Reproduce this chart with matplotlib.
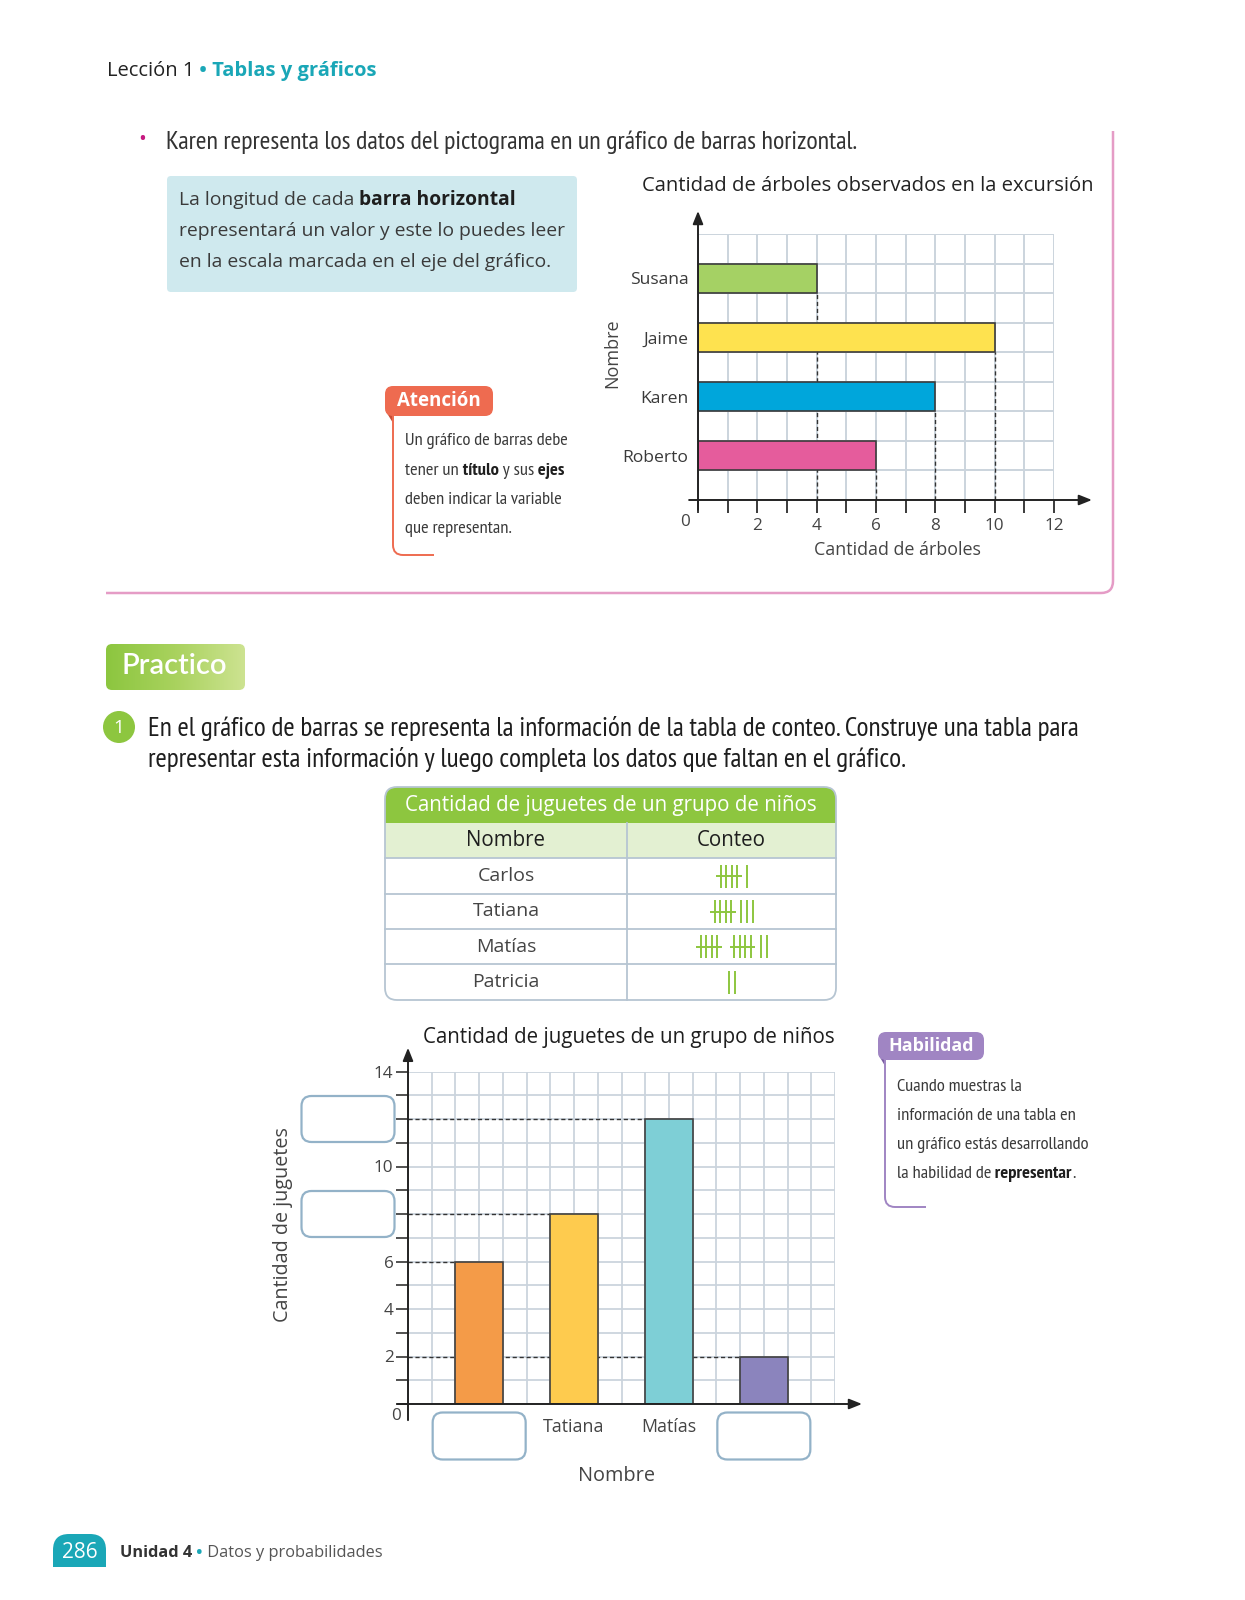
import os
import numpy as np
import matplotlib
matplotlib.use('Agg')
import matplotlib.pyplot as plt
import matplotlib.patheffects as pe
from matplotlib import font_manager as fm
from matplotlib.font_manager import FontProperties
from matplotlib.patches import FancyBboxPatch, Rectangle, Circle, PathPatch, Polygon
from matplotlib.path import Path
from matplotlib.transforms import ScaledTranslation
from matplotlib.colors import LinearSegmentedColormap

W, H = 1245, 1600
REG = ['Open Sans', 'DejaVu Sans']
ROUND = ['Lato', 'Open Sans', 'DejaVu Sans']

# ---------------- data ----------------
header_left = 'Lección 1'
header_right = 'Tablas y gráficos'
intro_text = 'Karen representa los datos del pictograma en un gráfico de barras horizontal.'
blue_lines = [[('La longitud de cada', 'normal'), (' barra horizontal', 'bold')],
              [('representará un valor y este lo puedes leer', 'normal')],
              [('en la escala marcada en el eje del gráfico.', 'normal')]]
atencion_title = 'Atención'
atencion_lines = [[('Un gráfico de barras debe', 'normal')],
                  [('tener un', 'normal'), (' título', 'bold'), (' y sus', 'normal'), (' ejes', 'bold')],
                  [('deben indicar la variable', 'normal')],
                  [('que representan.', 'normal')]]

h_title = 'Cantidad de árboles observados en la excursión'
h_names = ['Susana', 'Jaime', 'Karen', 'Roberto']
h_values = [4, 10, 8, 6]
h_colors = ['#a5d164', '#fee24f', '#00a6db', '#e55c9c']
h_xlabel = 'Cantidad de árboles'
h_ylabel = 'Nombre'
h_xticks = list(range(0, 13))
h_xtick_labels = ['0', '', '2', '', '4', '', '6', '', '8', '', '10', '', '12']

practico_label = 'Practico'
task_number = '1'
task_lines = ['En el gráfico de barras se representa la información de la tabla de conteo. Construye una tabla para',
              'representar esta información y luego completa los datos que faltan en el gráfico.']

table_title = 'Cantidad de juguetes de un grupo de niños'
table_header = ['Nombre', 'Conteo']
table_names = ['Carlos', 'Tatiana', 'Matías', 'Patricia']
table_counts = [6, 8, 12, 2]

v_title = 'Cantidad de juguetes de un grupo de niños'
v_names = ['', 'Tatiana', 'Matías', '']          # '' = blank box to complete
v_values = [6, 8, 12, 2]
v_colors = ['#f49b48', '#fecb4e', '#7ecfd6', '#8b84bd']
v_xlabel = 'Nombre'
v_ylabel = 'Cantidad de juguetes'
v_yticks = list(range(0, 15))
v_ytick_labels = ['0', '', '2', '', '4', '', '6', '', '', '', '10', '', '', '', '14']

habilidad_title = 'Habilidad'
habilidad_lines = [[('Cuando muestras la', 'normal')],
                   [('información de una tabla en', 'normal')],
                   [('un gráfico estás desarrollando', 'normal')],
                   [('la habilidad de', 'normal'), (' representar', 'bold'), ('.', 'normal')]]

page_number = '286'
footer_unit = 'Unidad 4'
footer_topic = 'Datos y probabilidades'

# ---------------- colours ----------------
TEAL = '#1aa7b7'
GREEN = '#8dc63f'
PINK = '#e59cc6'
ORANGE = '#ee6b50'
PURPLE = '#a085c3'
TXT = '#333333'
GRID = '#cbd4dd'


# ---------------- condensed font lookup ----------------
def _norm(s):
    return s.lower().replace(' ', '').replace('-', '').replace('_', '')


def _kind(e):
    s = _norm(os.path.basename(e.fname) + e.name)
    if 'narrow' in s:
        return 0
    if 'extracondensed' in s or 'ultracondensed' in s:
        return 3
    if 'semicondensed' in s:
        return 2
    if 'condensed' in s or 'cond' in _norm(os.path.basename(e.fname)):
        return 1
    return None


def _wt(e):
    w = e.weight
    if isinstance(w, str):
        return {'normal': 400, 'regular': 400, 'book': 400, 'bold': 700}.get(w.lower(), 0)
    return int(w)


def pick_condensed():
    fam_pref = ['liberation', 'roboto', 'notosans', 'opensans', 'dejavu', 'lato', 'inter']
    groups = {}
    for e in fm.fontManager.ttflist:
        b = _norm(os.path.basename(e.fname))
        if e.style != 'normal' or 'italic' in b or 'oblique' in b:
            continue
        if 'mono' in b or 'cjk' in b or 'serif' in b:
            continue
        k = _kind(e)
        if k is None:
            continue
        w = _wt(e)
        if w not in (400, 700):
            continue
        fp = next((i for i, f in enumerate(fam_pref) if f in _norm(e.name)), len(fam_pref))
        g = groups.setdefault((k, fp, e.name), {})
        g['bold' if w == 700 else 'normal'] = e.fname
    valid = [k for k, g in groups.items() if 'normal' in g]
    if not valid:
        return None
    both = [k for k in valid if 'bold' in groups[k]]
    return groups[min(both)] if both else groups[min(valid)]


COND_FILES = pick_condensed()
NAR = {'files': COND_FILES, 'family': REG}
REGSPEC = {'files': None, 'family': REG}

plt.rcParams['font.family'] = REG
fig = plt.figure(figsize=(W / 100, H / 100), dpi=100)
page = fig.add_axes([0, 0, 1, 1])
page.set_xlim(0, W)
page.set_ylim(H, 0)
page.axis('off')
renderer = fig.canvas.get_renderer()


def make_fp(spec, weight, size):
    """Return font properties and whether bold has to be emulated."""
    if spec['files']:
        if weight in spec['files']:
            return FontProperties(fname=spec['files'][weight], size=size), False
        return FontProperties(fname=spec['files']['normal'], size=size), weight == 'bold'
    return FontProperties(family=spec['family'], weight=weight, size=size), False


def runs(x, y, parts, size, spec, color=TXT, bold_color='#1e1e1e', draw=True):
    base = y + 0.34 * size * 100 / 72
    cx = x
    for part in parts:
        s, weight = part[0], part[1]
        col = part[2] if len(part) > 2 else (bold_color if weight == 'bold' else color)
        fp, fake = make_fp(spec, weight, size)
        t = page.text(cx, base, s, fontproperties=fp, color=col, ha='left', va='baseline', zorder=6)
        if fake:
            t.set_path_effects([pe.withStroke(linewidth=0.9, foreground=col)])
        cx += t.get_window_extent(renderer=renderer).width
        if not draw:
            t.remove()
    return cx - x


def fit(parts, spec, target, base=10.0):
    w = runs(0, 0, parts, base, spec, draw=False)
    return base * target / w


def rbox(x, y, w, h, r, fc, ec='none', lw=1.0, z=2):
    p = FancyBboxPatch((x, y), w, h, boxstyle=f'round,pad=0,rounding_size={r}',
                       fc=fc, ec=ec, lw=lw, zorder=z)
    page.add_patch(p)
    return p


def corner_line(x, y_top, y_bot, x_end, r, color, lw):
    verts = [(x, y_top), (x, y_bot - r), (x, y_bot), (x + r, y_bot), (x_end, y_bot)]
    codes = [Path.MOVETO, Path.LINETO, Path.CURVE3, Path.CURVE3, Path.LINETO]
    page.add_patch(PathPatch(Path(verts, codes), fc='none', ec=color, lw=lw, zorder=3))


# ---------------- header ----------------
hdr = [(header_left, 'normal', '#222222'), (' •', 'bold', TEAL), (' ' + header_right, 'bold', TEAL)]
runs(107, 69, hdr, fit(hdr, REGSPEC, 270), REGSPEC)
page.text(142, 140, '•', fontsize=15, color='#c61a80', ha='center', va='center')
intro = [(intro_text, 'normal')]
runs(166, 140, intro, fit(intro, NAR, 696), NAR, color='#333333')

# pink frame
verts = [(1113, 131), (1113, 581), (1113, 593), (1101, 593), (106, 593)]
codes = [Path.MOVETO, Path.LINETO, Path.CURVE3, Path.CURVE3, Path.LINETO]
page.add_patch(PathPatch(Path(verts, codes), fc='none', ec=PINK, lw=1.8, zorder=2))

# blue box
rbox(167, 176, 410, 116, 4, '#cfe9ee', z=1)
bsize = fit(blue_lines[1], REGSPEC, 384)
for i, line in enumerate(blue_lines):
    runs(179, 198 + 31 * i, line, bsize, REGSPEC, color='#3a3a3a')

# Atención
rbox(385, 386, 108, 30, 8, ORANGE, z=3)
page.add_patch(Polygon([(385, 410), (393, 416), (393, 423)], closed=True, fc='#c64e36', ec='none', zorder=2))
page.text(439, 401, atencion_title, fontsize=13.5, fontweight='bold', color='white', ha='center', va='center', zorder=6)
corner_line(393, 416, 555, 434, 10, ORANGE, 1.4)
asize = fit(atencion_lines[0], NAR, 164)
for i, line in enumerate(atencion_lines):
    runs(405, 439 + 29.3 * i, line, asize, NAR, color='#3a3a3a')

# ---------------- horizontal bar chart ----------------
hx0, hx1, hy0, hy1 = 698, 1054, 234, 500
axh = fig.add_axes([hx0 / W, 1 - hy1 / H, (hx1 - hx0) / W, (hy1 - hy0) / H])
axh.patch.set_alpha(0)
h_pos = 7.5 - 2 * np.arange(len(h_names))
axh.set_xlim(0, 12)
axh.set_ylim(0, 9)
axh.set_xticks(h_xticks, [l if t != 0 else '' for t, l in zip(h_xticks, h_xtick_labels)])
axh.set_yticks(np.arange(0, 10))
axh.yaxis.remove_overlapping_locs = False
axh.set_yticks(h_pos, h_names, minor=True)
axh.grid(True, which='major', color=GRID, lw=1.4)
axh.set_axisbelow(True)
for s in axh.spines.values():
    s.set_visible(False)
axh.tick_params(axis='x', which='major', direction='out', length=9, width=1.3, color='#2b2b2b',
                pad=4, labelsize=12.3, labelcolor='#444444')
axh.tick_params(axis='y', which='major', length=0, labelleft=False)
axh.tick_params(axis='y', which='minor', length=0, pad=7, labelsize=12.6, labelcolor='#3a3a3a')
axh.barh(h_pos, h_values, height=1, color=h_colors, edgecolor='#3b3b3b', linewidth=1.2, zorder=3)
axh.vlines(h_values, 0, h_pos - 0.5, colors='#333333', linestyles=(0, (3, 2)), lw=1.0, zorder=2)
arrow_kw = dict(arrowstyle='-|>,head_length=0.55,head_width=0.22', color='#222222', lw=1.4,
                shrinkA=0, shrinkB=0, mutation_scale=14)
axh.annotate('', xy=(0, 9.78), xytext=(0, -0.33), arrowprops=arrow_kw, annotation_clip=False)
axh.annotate('', xy=(13.28, 0), xytext=(-0.3, 0), arrowprops=arrow_kw, annotation_clip=False)
axh.text(0, 0, h_xtick_labels[0], fontsize=12.3, color='#444444', ha='center', va='center',
         transform=axh.transData + ScaledTranslation(-0.13, -0.22, fig.dpi_scale_trans))
axh.text((868 - hx0) / (hx1 - hx0), (hy1 - 186) / (hy1 - hy0), h_title, transform=axh.transAxes,
         fontsize=14.6, color='#222222', ha='center', va='center')
axh.text((897 - hx0) / (hx1 - hx0), (hy1 - 550) / (hy1 - hy0), h_xlabel, transform=axh.transAxes,
         fontsize=12.9, color='#444444', ha='center', va='center')
axh.text((612 - hx0) / (hx1 - hx0), (hy1 - 353) / (hy1 - hy0), h_ylabel, transform=axh.transAxes,
         fontsize=13, color='#444444', ha='center', va='center', rotation=90)

# ---------------- Practico ----------------
grad = np.linspace(0, 1, 256).reshape(1, -1)
cmap = LinearSegmentedColormap.from_list('g', ['#8cc63f', '#a9d25e', '#cde391'])
im = page.imshow(grad, extent=(106, 245, 690, 644), cmap=cmap, aspect='auto', zorder=2)
clip = rbox(106, 644, 139, 46, 6, 'none', z=1)
im.set_clip_path(clip)
page.set_xlim(0, W)
page.set_ylim(H, 0)
page.text(121, 666, practico_label, fontsize=21, fontweight='semibold', color='white', ha='left',
          va='center', family=ROUND, zorder=6)

page.add_patch(Circle((119, 727), 16, fc=GREEN, ec='none', zorder=3))
page.text(119, 728, task_number, fontsize=13.5, color='white', ha='center', va='center', zorder=6)
tsize = fit([(task_lines[0], 'normal')], NAR, 940)
for i, line in enumerate(task_lines):
    runs(148, 727 + 31 * i, [(line, 'normal')], tsize, NAR, color='#1e1e1e')

# ---------------- tally table ----------------
tx0, tx1, colx = 385, 836, 627
ty = [787, 823, 858, 894, 929, 964, 1000]
BORDER = '#b6c5d2'
rbox(tx0, ty[0], tx1 - tx0, ty[2] - ty[0], 12, GREEN, z=1)
page.add_patch(Rectangle((tx0, ty[1]), tx1 - tx0, ty[2] - ty[1], fc='#e3f0d2', ec='none', zorder=1.5))
rbox(tx0, ty[0], tx1 - tx0, ty[-1] - ty[0], 12, 'none', ec=BORDER, lw=1.3, z=3)
for yy in ty[2:-1]:
    page.plot([tx0, tx1], [yy, yy], color=BORDER, lw=1.3, zorder=2)
page.plot([colx, colx], [ty[1], ty[-1]], color=BORDER, lw=1.3, zorder=2)
page.text((tx0 + tx1) / 2, (ty[0] + ty[1]) / 2 + 1, table_title, fontsize=14.8, color='white',
          ha='center', va='center', zorder=6)
c1, c2 = (tx0 + colx) / 2, (colx + tx1) / 2
page.text(c1, (ty[1] + ty[2]) / 2, table_header[0], fontsize=14.8, color='#1e1e1e', ha='center', va='center')
page.text(c2, (ty[1] + ty[2]) / 2, table_header[1], fontsize=14.8, color='#1e1e1e', ha='center', va='center')
for i, (name, n) in enumerate(zip(table_names, table_counts)):
    yc = (ty[i + 2] + ty[i + 3]) / 2
    page.text(c1, yc, name, fontsize=14, color='#444444', ha='center', va='center')
    # tally marks derived from the count
    verticals, strikes = [], []
    cur = 0.0
    for g in range(n // 5):
        xs = [cur + k * 5.5 for k in range(4)]
        verticals += xs
        strikes.append((xs[0] - 4.5, xs[-1] + 4.5))
        cur = xs[-1] + 4.5 + 8 + 4.5
    rest = n % 5
    if rest:
        if n // 5:
            cur = cur - 4.5 - 4.5 + 2
        for k in range(rest):
            verticals.append(cur + k * 6)
    lo = min(verticals + [s[0] for s in strikes])
    hi = max(verticals + [s[1] for s in strikes])
    off = c2 - (lo + hi) / 2
    for v in verticals:
        page.plot([v + off, v + off], [yc - 11.5, yc + 11.5], color=GREEN, lw=1.4,
                  solid_capstyle='butt', zorder=4)
    for a, b in strikes:
        page.plot([a + off, b + off], [yc, yc], color=GREEN, lw=1.4, solid_capstyle='butt', zorder=4)

# ---------------- vertical bar chart ----------------
vx0, vx1, vy0, vy1 = 408, 835, 1071.5, 1404
axv = fig.add_axes([vx0 / W, 1 - vy1 / H, (vx1 - vx0) / W, (vy1 - vy0) / H])
axv.patch.set_alpha(0)
v_pos = 3 + 4 * np.arange(len(v_names))
axv.set_xlim(0, 18)
axv.set_ylim(0, 14)
axv.xaxis.remove_overlapping_locs = False
axv.set_xticks(np.arange(0, 19))
axv.set_xticks(v_pos, v_names, minor=True)
axv.set_yticks(v_yticks, [l if t != 0 else '' for t, l in zip(v_yticks, v_ytick_labels)])
axv.grid(True, which='major', color=GRID, lw=1.3)
axv.set_axisbelow(True)
for s in axv.spines.values():
    s.set_visible(False)
axv.tick_params(axis='x', which='major', length=0, labelbottom=False)
axv.tick_params(axis='x', which='minor', length=0, pad=10, labelsize=12.8, labelcolor='#444444')
axv.tick_params(axis='y', which='major', direction='out', length=9, width=1.2, color='#333333',
                pad=1.5, labelsize=12.3, labelcolor='#444444')
axv.bar(v_pos, v_values, width=2, color=v_colors, edgecolor='#404040', linewidth=1.2, zorder=3)
axv.hlines(v_values, 0, v_pos - 1, colors='#333333', linestyles=(0, (3, 2)), lw=1.0, zorder=2)
axv.annotate('', xy=(0, 15.0), xytext=(0, -0.68), arrowprops=arrow_kw, annotation_clip=False)
axv.annotate('', xy=(19.14, 0), xytext=(-0.45, 0), arrowprops=arrow_kw, annotation_clip=False)
axv.text(0, 0, v_ytick_labels[0], fontsize=12.3, color='#444444', ha='center', va='center',
         transform=axv.transData + ScaledTranslation(-0.12, -0.12, fig.dpi_scale_trans))
axv.text((629 - vx0) / (vx1 - vx0), (vy1 - 1038) / (vy1 - vy0), v_title, transform=axv.transAxes,
         fontsize=14.8, color='#1e1e1e', ha='center', va='center')
axv.text((617 - vx0) / (vx1 - vx0), (vy1 - 1476) / (vy1 - vy0), v_xlabel, transform=axv.transAxes,
         fontsize=14.3, color='#444444', ha='center', va='center')
axv.text((283 - vx0) / (vx1 - vx0), (vy1 - 1225) / (vy1 - vy0), v_ylabel, transform=axv.transAxes,
         fontsize=14.2, color='#444444', ha='center', va='center', rotation=90)


def to_page(ax, x, y):
    X, Y = ax.transData.transform((x, y))
    return X, H - Y


BOXEC = '#93b2c8'
labeled = {t for t, l in zip(v_yticks, v_ytick_labels) if l}
for val in v_values:
    if val not in labeled:
        px, py = to_page(axv, 0, val)
        rbox(px - 60 - 46.5, py - 23, 93, 46, 10, 'white', ec=BOXEC, lw=1.6, z=3)
for pos, name in zip(v_pos, v_names):
    if not name:
        px, py = to_page(axv, pos, 0)
        rbox(px - 46.5, py + 32 - 23.5, 93, 47, 10, 'white', ec=BOXEC, lw=1.6, z=3)

# ---------------- Habilidad ----------------
rbox(878, 1032, 106, 28, 8, PURPLE, z=3)
page.add_patch(Polygon([(878, 1054), (885, 1060), (885, 1066)], closed=True, fc='#7b5ea3', ec='none', zorder=2))
page.text(931, 1046, habilidad_title, fontsize=12.9, fontweight='bold', color='white',
          ha='center', va='center', zorder=6)
corner_line(885, 1060, 1207, 926, 10, PURPLE, 1.4)
hsize = fit(habilidad_lines[2], NAR, 193)
for i, line in enumerate(habilidad_lines):
    runs(897, 1085 + 29 * i, line, hsize, NAR, color='#3a3a3a')

# ---------------- footer ----------------
rbox(53, 1534, 53, 33, 16, TEAL, z=2)
page.add_patch(Rectangle((53, 1551), 53, 16, fc=TEAL, ec='none', zorder=2))
page.text(79.5, 1552, page_number, fontsize=15, color='white', ha='center', va='center', zorder=6)
foot = [(footer_unit, 'bold', '#333333'), (' •', 'bold', TEAL), (' ' + footer_topic, 'normal', '#555555')]
runs(120, 1551, foot, fit(foot, REGSPEC, 262), REGSPEC)

fig.savefig('out.png', dpi=100)
